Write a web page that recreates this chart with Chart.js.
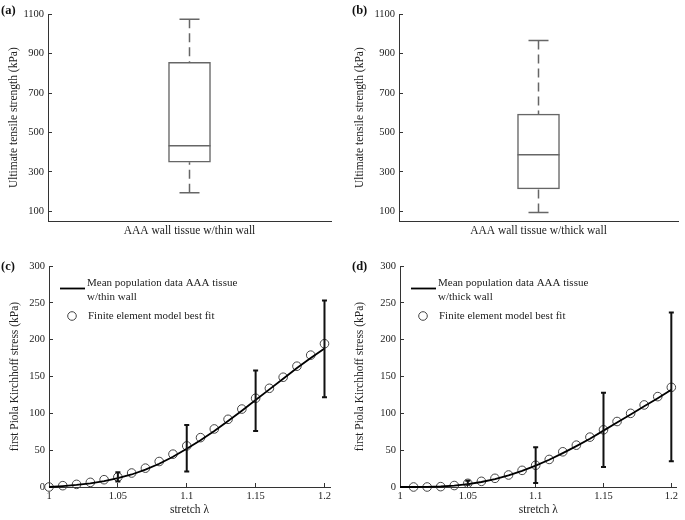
<!DOCTYPE html>
<html>
<head>
<meta charset="utf-8">
<script src="https://cdn.jsdelivr.net/npm/chart.js@4.4.0/dist/chart.umd.min.js"></script>
<style>
  body { margin: 0; background: #fff; }
  #wrap { position: relative; width: 685px; height: 520px; overflow: hidden; }
  canvas { position: absolute; }
  .tag { position: absolute; font: bold 12.5px 'Liberation Serif', 'Times New Roman', serif; color: #111; }
</style>
</head>
<body>
<div id="wrap">
  <canvas id="chartA" width="342" height="250" style="left:0;top:0"></canvas>
  <canvas id="chartB" width="340" height="250" style="left:345px;top:0"></canvas>
  <canvas id="chartC" width="342" height="270" style="left:0;top:250px"></canvas>
  <canvas id="chartD" width="340" height="270" style="left:345px;top:250px"></canvas>
  <div class="tag" style="left:1px;top:3px">(a)</div>
  <div class="tag" style="left:352px;top:3px">(b)</div>
  <div class="tag" style="left:1px;top:259px">(c)</div>
  <div class="tag" style="left:352px;top:259px">(d)</div>
</div>
<script>
// Box plot data (ultimate tensile strength, kPa)
const boxCategories = ['AAA wall tissue w/thin wall', 'AAA wall tissue w/thick wall'];
const whiskerLow = [193, 93];
const quartile1 = [349, 213];
const medians = [432, 387];
const quartile3 = [856, 593];
const whiskerHigh = [1075, 967];
const boxTicks = [100, 300, 500, 700, 900, 1100];

// Stress-stretch curves
const stretch = [1, 1.01, 1.02, 1.03, 1.04, 1.05, 1.06, 1.07, 1.08, 1.09, 1.1,
                 1.11, 1.12, 1.13, 1.14, 1.15, 1.16, 1.17, 1.18, 1.19, 1.2];
const thinMean = [0, 1.2, 2.8, 5, 8, 12, 17, 23.5, 31.5, 41, 52, 63.5, 76, 89.5, 103.5, 118, 132.5, 147, 161.5, 175, 188];
const thinFE = [0, 1.8, 3.6, 6.3, 9.9, 13.5, 19, 25.6, 34.6, 44.6, 55.8, 67, 78.8, 91.9, 105.8, 120.5, 134, 149, 164, 179, 194.5];
const thickMean = [0, 0, 0.2, 0.7, 1.8, 3.8, 6.8, 10.8, 15.8, 22, 29, 37, 46, 55.5, 65.5, 76.5, 87.5, 98.5, 109.5, 120.5, 132];
const thickFE = [null, 0, 0, 0.5, 2, 5, 7.7, 11.8, 16.3, 22.6, 29.5, 37.4, 47.8, 56.8, 67.7, 77.6, 88.9, 100, 111.4, 122.7, 135.3];

const errStretch = [1.05, 1.1, 1.15, 1.2];
const thinErrLow = [7.5, 21, 76, 122];
const thinErrHigh = [20, 84, 158, 253];
const thickErrLow = [3, 5.5, 27, 35];
const thickErrHigh = [8.5, 54, 128, 237];

const stretchTicks = [1, 1.05, 1.1, 1.15, 1.2];
const stressTicks = [0, 50, 100, 150, 200, 250, 300];

const FONT = "'Liberation Serif', 'Times New Roman', serif";
Chart.defaults.font.family = FONT;
Chart.defaults.color = '#222';
Chart.defaults.animation = false;

// whiskers + median for the floating-bar boxes
const boxPlugin = {
    id: 'boxWhiskers',
    afterDatasetsDraw(chart) {
        const ds = chart.data.datasets[0];
        const y = chart.scales.y;
        const ctx = chart.ctx;
        chart.getDatasetMeta(0).data.forEach((bar, j) => {
            const x = bar.x;
            const half = bar.width / 2;
            const cap = 10;
            const pMed = y.getPixelForValue(ds.median[j]);
            const pQ1 = y.getPixelForValue(ds.data[j][0]);
            const pQ3 = y.getPixelForValue(ds.data[j][1]);
            const pLow = y.getPixelForValue(ds.low[j]);
            const pHigh = y.getPixelForValue(ds.high[j]);
            ctx.save();
            ctx.strokeStyle = ds.borderColor;
            ctx.lineWidth = 1.5;
            ctx.beginPath();
            ctx.moveTo(x - half, pMed); ctx.lineTo(x + half, pMed);
            ctx.moveTo(x - cap, pHigh); ctx.lineTo(x + cap, pHigh);
            ctx.moveTo(x - cap, pLow); ctx.lineTo(x + cap, pLow);
            ctx.stroke();
            ctx.setLineDash([9, 5]);
            ctx.beginPath();
            ctx.moveTo(x, pHigh); ctx.lineTo(x, pQ3);
            ctx.moveTo(x, pLow); ctx.lineTo(x, pQ1);
            ctx.stroke();
            ctx.restore();
        });
    }
};

// error bars on the mean curve
const errorBarPlugin = {
    id: 'errorBars',
    afterDatasetsDraw(chart) {
        const ds = chart.data.datasets[0];
        const xs = chart.scales.x, ys = chart.scales.y;
        const ctx = chart.ctx;
        ctx.save();
        ctx.strokeStyle = '#111';
        ctx.lineWidth = 2;
        ds.errX.forEach((v, k) => {
            const px = xs.getPixelForValue(v);
            const top = ys.getPixelForValue(ds.errHigh[k]);
            const bot = ys.getPixelForValue(ds.errLow[k]);
            ctx.beginPath();
            ctx.moveTo(px, top); ctx.lineTo(px, bot);
            ctx.moveTo(px - 2.5, top); ctx.lineTo(px + 2.5, top);
            ctx.moveTo(px - 2.5, bot); ctx.lineTo(px + 2.5, bot);
            ctx.stroke();
        });
        ctx.restore();
    }
};

// legend inside the plot, top-left
const legendPlugin = {
    id: 'panelLegend',
    afterDraw(chart) {
        const a = chart.chartArea;
        const ctx = chart.ctx;
        const lineDs = chart.data.datasets[0];
        const ptDs = chart.data.datasets[1];
        ctx.save();
        ctx.strokeStyle = lineDs.borderColor;
        ctx.lineWidth = lineDs.borderWidth;
        ctx.beginPath();
        ctx.moveTo(a.left + 11, a.top + 22.5); ctx.lineTo(a.left + 36, a.top + 22.5);
        ctx.stroke();
        ctx.strokeStyle = ptDs.pointBorderColor;
        ctx.lineWidth = ptDs.pointBorderWidth;
        ctx.beginPath();
        ctx.arc(a.left + 23, a.top + 50, ptDs.pointRadius, 0, Math.PI * 2);
        ctx.stroke();
        ctx.fillStyle = '#222';
        ctx.font = '11px ' + FONT;
        ctx.textBaseline = 'middle';
        ctx.textAlign = 'left';
        lineDs.legendLines.forEach((t, k) => ctx.fillText(t, a.left + 38, a.top + 17.5 + k * 13.5));
        ctx.fillText(ptDs.label, a.left + 39, a.top + 50);
        ctx.restore();
    }
};

function boxChart(id, i, lay) {
    return new Chart(document.getElementById(id), {
        type: 'bar',
        data: {
            labels: [boxCategories[i]],
            datasets: [{
                data: [[quartile1[i], quartile3[i]]],
                median: [medians[i]],
                low: [whiskerLow[i]],
                high: [whiskerHigh[i]],
                backgroundColor: '#fff',
                borderColor: '#666',
                borderWidth: 1.5,
                borderSkipped: false,
                barThickness: 42
            }]
        },
        options: {
            responsive: false,
            devicePixelRatio: 1,
            layout: { padding: { left: 0, top: 10, right: lay.padRight, bottom: 0 } },
            plugins: { legend: { display: false }, tooltip: { enabled: false } },
            scales: {
                x: {
                    grid: { display: false },
                    border: { color: '#333', width: 1 },
                    ticks: { display: false },
                    title: { display: true, text: boxCategories[i], font: { size: 11.5 }, padding: { top: 0, bottom: 12 } },
                    afterFit: s => { s.height = 29; }
                },
                y: {
                    min: 50, max: 1100,
                    afterBuildTicks: s => { s.ticks = boxTicks.map(v => ({ value: v })); },
                    grid: { drawOnChartArea: false, tickLength: -4, color: '#333' },
                    border: { color: '#333', width: 1 },
                    ticks: { padding: 8, font: { size: 10.5 }, callback: v => String(v) },
                    title: { display: true, text: 'Ultimate tensile strength (kPa)', font: { size: 11.5 }, padding: { top: lay.yTitlePad, bottom: 0 } },
                    afterFit: s => { s.width = lay.yWidth; }
                }
            }
        },
        plugins: [boxPlugin]
    });
}

function curveChart(id, mean, fe, errLow, errHigh, legendLines, lay) {
    return new Chart(document.getElementById(id), {
        type: 'line',
        data: {
            datasets: [{
                label: legendLines.join(' '),
                legendLines: legendLines,
                data: stretch.map((x, k) => ({ x: x, y: mean[k] })),
                errX: errStretch, errLow: errLow, errHigh: errHigh,
                borderColor: '#000',
                borderWidth: 1.8,
                pointRadius: 0,
                fill: false,
                clip: false
            }, {
                label: 'Finite element model best fit',
                data: stretch.map((x, k) => ({ x: x, y: fe[k] })).filter(p => p.y !== null),
                showLine: false,
                pointRadius: 4.3,
                pointBorderColor: '#444',
                pointBackgroundColor: 'rgba(0,0,0,0)',
                pointBorderWidth: 1,
                clip: false
            }]
        },
        options: {
            responsive: false,
            devicePixelRatio: 1,
            layout: { padding: { left: 0, top: 16, right: lay.padRight, bottom: 0 } },
            plugins: { legend: { display: false }, tooltip: { enabled: false } },
            scales: {
                x: {
                    type: 'linear', min: 1, max: 1.204,
                    afterBuildTicks: s => { s.ticks = stretchTicks.map(v => ({ value: v })); },
                    grid: { drawOnChartArea: false, tickLength: -4, color: '#333' },
                    border: { color: '#333', width: 1 },
                    ticks: { padding: 7, font: { size: 10.5 }, callback: v => String(v), maxRotation: 0 },
                    title: { display: true, text: 'stretch λ', font: { size: 11.5 }, padding: { top: 0, bottom: 3 } },
                    afterFit: s => { s.height = 33; }
                },
                y: {
                    min: 0, max: 300,
                    afterBuildTicks: s => { s.ticks = stressTicks.map(v => ({ value: v })); },
                    grid: { drawOnChartArea: false, tickLength: -4, color: '#333' },
                    border: { color: '#333', width: 1 },
                    ticks: { padding: 8, font: { size: 10.5 }, callback: v => String(v) },
                    title: { display: true, text: 'first Piola Kirchhoff stress (kPa)', font: { size: 11.5 }, padding: { top: 8.4, bottom: 0 } },
                    afterFit: s => { s.width = lay.yWidth; }
                }
            }
        },
        plugins: [errorBarPlugin, legendPlugin]
    });
}

boxChart('chartA', 0, { yWidth: 48, padRight: 11, yTitlePad: 7.4 });
boxChart('chartB', 1, { yWidth: 54, padRight: 7, yTitlePad: 8.4 });
curveChart('chartC', thinMean, thinFE, thinErrLow, thinErrHigh,
    ['Mean population data AAA tissue', 'w/thin wall'], { yWidth: 49, padRight: 12 });
curveChart('chartD', thickMean, thickFE, thickErrLow, thickErrHigh,
    ['Mean population data AAA tissue', 'w/thick wall'], { yWidth: 55, padRight: 6 });
</script>
</body>
</html>
